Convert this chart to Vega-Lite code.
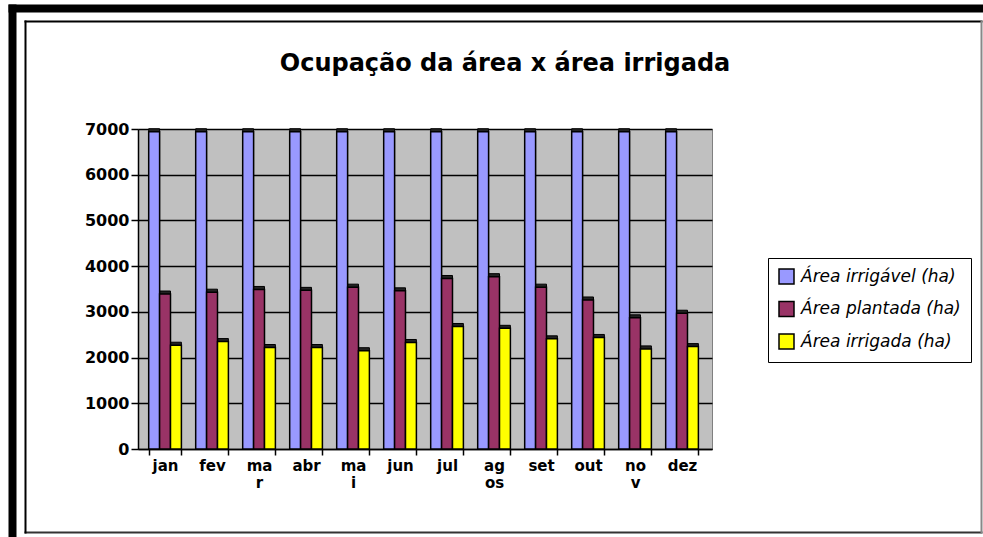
{
  "$schema": "https://vega.github.io/schema/vega-lite/v6.json",
  "width": 574,
  "height": 320,
  "autosize": {"type": "none"},
  "padding": {"left": 138, "top": 129, "right": 271, "bottom": 88},
  "background": "white",
  "title": {
    "text": "Ocupação da área x área irrigada",
    "frame": "group",
    "anchor": "middle",
    "dx": 80,
    "offset": -68,
    "font": "DejaVu Sans",
    "fontSize": 24,
    "fontWeight": "bold",
    "color": "black"
  },
  "config": {
    "view": {"fill": "#C0C0C0", "stroke": "#808080", "strokeWidth": 1}
  },
  "datasets": {
    "bars": [
      {"mes": "jan", "serie": "Área irrigável (ha)", "valor": 6940},
      {"mes": "jan", "serie": "Área plantada (ha)", "valor": 3390},
      {"mes": "jan", "serie": "Área irrigada (ha)", "valor": 2270},
      {"mes": "fev", "serie": "Área irrigável (ha)", "valor": 6940},
      {"mes": "fev", "serie": "Área plantada (ha)", "valor": 3430},
      {"mes": "fev", "serie": "Área irrigada (ha)", "valor": 2350},
      {"mes": "mar", "serie": "Área irrigável (ha)", "valor": 6940},
      {"mes": "mar", "serie": "Área plantada (ha)", "valor": 3490},
      {"mes": "mar", "serie": "Área irrigada (ha)", "valor": 2220},
      {"mes": "abr", "serie": "Área irrigável (ha)", "valor": 6940},
      {"mes": "abr", "serie": "Área plantada (ha)", "valor": 3470},
      {"mes": "abr", "serie": "Área irrigada (ha)", "valor": 2220},
      {"mes": "mai", "serie": "Área irrigável (ha)", "valor": 6940},
      {"mes": "mai", "serie": "Área plantada (ha)", "valor": 3540},
      {"mes": "mai", "serie": "Área irrigada (ha)", "valor": 2150},
      {"mes": "jun", "serie": "Área irrigável (ha)", "valor": 6940},
      {"mes": "jun", "serie": "Área plantada (ha)", "valor": 3460},
      {"mes": "jun", "serie": "Área irrigada (ha)", "valor": 2330},
      {"mes": "jul", "serie": "Área irrigável (ha)", "valor": 6940},
      {"mes": "jul", "serie": "Área plantada (ha)", "valor": 3730},
      {"mes": "jul", "serie": "Área irrigada (ha)", "valor": 2680},
      {"mes": "ago", "serie": "Área irrigável (ha)", "valor": 6940},
      {"mes": "ago", "serie": "Área plantada (ha)", "valor": 3770},
      {"mes": "ago", "serie": "Área irrigada (ha)", "valor": 2640},
      {"mes": "set", "serie": "Área irrigável (ha)", "valor": 6940},
      {"mes": "set", "serie": "Área plantada (ha)", "valor": 3540},
      {"mes": "set", "serie": "Área irrigada (ha)", "valor": 2410},
      {"mes": "out", "serie": "Área irrigável (ha)", "valor": 6940},
      {"mes": "out", "serie": "Área plantada (ha)", "valor": 3260},
      {"mes": "out", "serie": "Área irrigada (ha)", "valor": 2440},
      {"mes": "nov", "serie": "Área irrigável (ha)", "valor": 6940},
      {"mes": "nov", "serie": "Área plantada (ha)", "valor": 2870},
      {"mes": "nov", "serie": "Área irrigada (ha)", "valor": 2190},
      {"mes": "dez", "serie": "Área irrigável (ha)", "valor": 6940},
      {"mes": "dez", "serie": "Área plantada (ha)", "valor": 2970},
      {"mes": "dez", "serie": "Área irrigada (ha)", "valor": 2240}
    ]
  },
  "resolve": {"scale": {"x": "independent", "y": "independent"}},
  "layer": [
    {
      "data": {"values": [{}]},
      "mark": {"type": "point", "opacity": 0},
      "encoding": {
        "x": {"datum": 0, "type": "quantitative", "scale": {"domain": [0, 1], "range": [-130, 845]},
              "axis": {"orient": "top", "offset": 121, "domainColor": "black", "domainWidth": 8, "ticks": false, "labels": false, "grid": false, "title": null}},
        "y": {"datum": 0, "type": "quantitative", "scale": {"domain": [0, 1], "range": [408, -125]},
              "axis": {"orient": "left", "offset": 126, "domainColor": "black", "domainWidth": 8, "ticks": false, "labels": false, "grid": false, "title": null}}
      }
    },
    {
      "data": {"values": [{}]},
      "mark": {"type": "point", "opacity": 0},
      "encoding": {
        "x": {"datum": 0, "type": "quantitative", "scale": {"domain": [0, 1], "range": [-114, 844]},
              "axis": {"orient": "top", "offset": 108, "domainColor": "black", "domainWidth": 2, "ticks": false, "labels": false, "grid": false, "title": null}},
        "y": {"datum": 0, "type": "quantitative", "scale": {"domain": [0, 1], "range": [404, -109]},
              "axis": {"orient": "left", "offset": 113, "domainColor": "black", "domainWidth": 2, "ticks": false, "labels": false, "grid": false, "title": null}}
      }
    },
    {
      "data": {"values": [{}]},
      "mark": {"type": "point", "opacity": 0},
      "encoding": {
        "x": {"datum": 0, "type": "quantitative", "scale": {"domain": [0, 1], "range": [-114, 844]},
              "axis": {"orient": "bottom", "offset": 83, "domainColor": "#333333", "domainWidth": 2, "ticks": false, "labels": false, "grid": false, "title": null}},
        "y": {"datum": 0, "type": "quantitative", "scale": {"domain": [0, 1], "range": [404, -109]},
              "axis": {"orient": "right", "offset": 269, "domainColor": "#888888", "domainWidth": 2, "ticks": false, "labels": false, "grid": false, "title": null}}
      }
    },
    {
      "data": {"name": "bars"},
      "encoding": {
        "x": {
          "field": "mes", "type": "nominal", "sort": null,
          "scale": {"paddingInner": 0.304, "paddingOuter": 0.2585, "align": 0.44},
          "axis": {
            "orient": "bottom", "title": null, "labelAngle": 0, "tickBand": "extent", "grid": false,
            "labelFont": "DejaVu Sans", "labelFontSize": 15, "labelFontWeight": "bold", "labelColor": "black",
            "tickColor": "black", "tickSize": 6, "tickWidth": 1.5, "domainColor": "black", "domainWidth": 1.5,
            "labelPadding": 3, "labelLineHeight": 17, "labelBaseline": "top",
            "labelExpr": "datum.value == 'mar' ? ['ma','r'] : datum.value == 'mai' ? ['ma','i'] : datum.value == 'ago' ? ['ag','os'] : datum.value == 'nov' ? ['no','v'] : datum.value"
          }
        },
        "xOffset": {
          "field": "serie", "type": "nominal",
          "sort": ["Área irrigável (ha)", "Área plantada (ha)", "Área irrigada (ha)"],
          "scale": {"paddingInner": 0, "paddingOuter": 0}
        },
        "y": {
          "field": "valor", "type": "quantitative",
          "scale": {"domain": [0, 7000], "nice": false},
          "axis": {
            "orient": "left", "format": "d",
            "title": null, "values": [0, 1000, 2000, 3000, 4000, 5000, 6000, 7000],
            "grid": true, "gridColor": "black", "gridWidth": 1.5,
            "labelFont": "DejaVu Sans", "labelFontSize": 16, "labelFontWeight": "bold", "labelColor": "black",
            "tickColor": "black", "tickSize": 7, "tickWidth": 1.5, "domainColor": "black", "domainWidth": 1.5, "labelPadding": 2
          }
        }
      },
      "layer": [
        {
          "mark": {"type": "bar", "xOffset": 3, "yOffset": -3, "y2Offset": -3, "fill": "#222222", "stroke": "black", "strokeWidth": 1}
        },
        {
          "mark": {"type": "bar", "stroke": "black", "strokeWidth": 1.5},
          "encoding": {
            "color": {
              "field": "serie", "type": "nominal",
              "sort": ["Área irrigável (ha)", "Área plantada (ha)", "Área irrigada (ha)"],
              "scale": {"domain": ["Área irrigável (ha)", "Área plantada (ha)", "Área irrigada (ha)"], "range": ["#9999FF", "#993366", "#FFFF00"]},
              "legend": {
                "orient": "none", "legendX": 630, "legendY": 129, "title": null, "direction": "vertical",
                "strokeColor": "black", "fillColor": "white", "padding": 10,
                "symbolType": "square", "symbolSize": 225, "symbolStrokeColor": "black", "symbolStrokeWidth": 1.5, "symbolOpacity": 1,
                "labelFont": "DejaVu Sans", "labelFontSize": 17, "labelFontStyle": "italic", "labelColor": "black",
                "labelOffset": 6, "rowPadding": 11.5, "labelLimit": 300
              }
            }
          }
        }
      ]
    }
  ]
}
